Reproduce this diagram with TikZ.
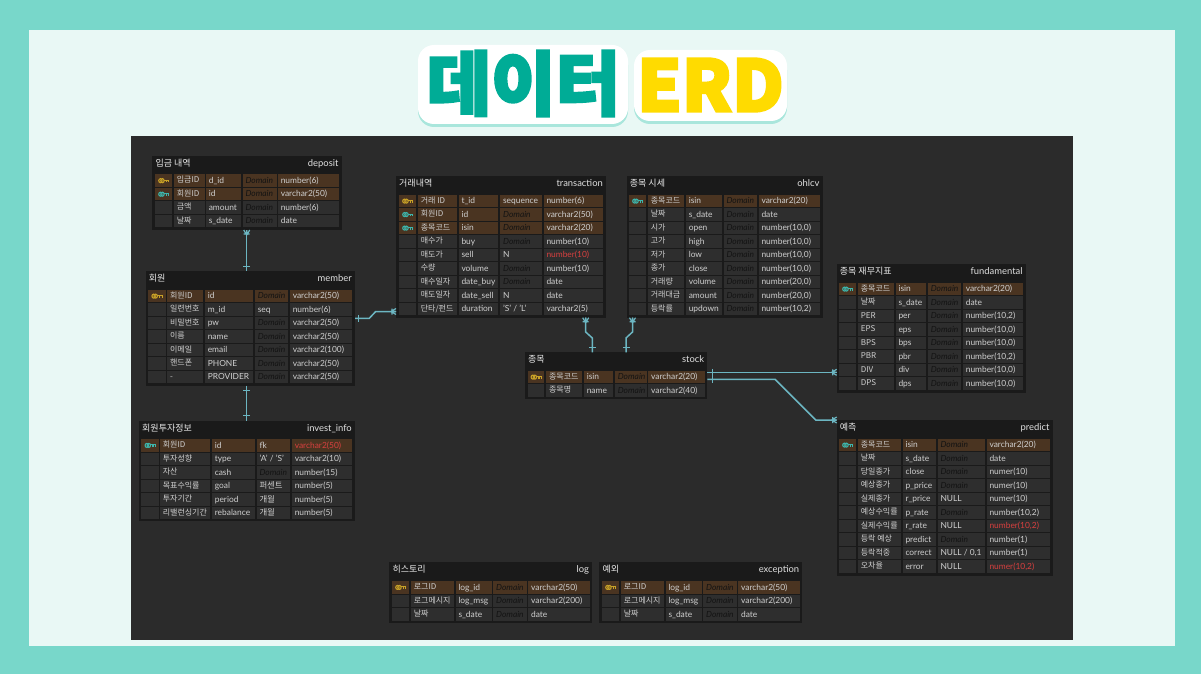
\documentclass[tikz,border=0pt]{standalone}
\usepackage{fontspec}
\setmainfont{Lato}
\newfontfamily\ko{Noto Sans CJK KR}
\newfontfamily\ttlfont[BoldFeatures={FakeBold=3.5}]{Noto Sans CJK KR}
\definecolor{mint}{HTML}{78D7CA}
\definecolor{paper}{HTML}{E9F8F5}
\definecolor{panel}{HTML}{2B2B2B}
\definecolor{tbl}{HTML}{1A1A1A}
\definecolor{cell}{HTML}{2E2E2E}
\definecolor{pkcell}{HTML}{4A3421}
\definecolor{txt}{HTML}{CFCFCF}
\definecolor{domaintxt}{HTML}{131313}
\definecolor{redtxt}{HTML}{D8403F}
\definecolor{goldkey}{HTML}{C9A227}
\definecolor{tealkey}{HTML}{3DB6AC}
\definecolor{conncol}{HTML}{6CB6C2}
\definecolor{ttlgreen}{HTML}{00AC96}
\definecolor{ttlyellow}{HTML}{FFDB00}
\definecolor{halo}{HTML}{A9E6DC}
\tikzset{
  tablebox/.style={fill=tbl,draw=none,inner sep=0pt,outer sep=0pt},
  tko/.style={font=\ko\fontsize{8}{8}\selectfont,text=txt,inner sep=0pt,anchor=base west},
  ten/.style={font=\fontsize{8.4}{8.4}\selectfont,text=txt,inner sep=0pt,anchor=base west},
  hko/.style={font=\ko\fontsize{9}{9}\selectfont,text=white!92!black,inner sep=0pt,anchor=base west},
  hen/.style={font=\fontsize{9.4}{9.4}\selectfont,text=white!88!black,inner sep=0pt,anchor=base east},
  conn/.style={draw=conncol,line width=1.5pt},
  tip/.style={draw=conncol,line width=1.2pt},
}
\newcommand\dm{{\color{domaintxt}\itshape Domain}}
\newcommand\rd[1]{{\color{redtxt}#1}}
% name x0 y0 x1 y1 korean english firstrowtop
\newcommand\erdtable[8]{%
  \node[tablebox,minimum width=#4pt-#2pt,minimum height=#5pt-#3pt] (#1) at ({(#2+#4)/2},{(#3+#5)/2}) {};
  \node[hko] (#1-ko) at ({#2+3},{#3+10.5}) {#6};
  \node[hen] (#1-en) at ({#4-3},{#3+10.5}) {#7};
  \def\tname{#1}\def\rt{#8}\def\rn{0}\def\xend{#4}%
}
\newcommand\erdcols[9]{\def\ka{#1}\def\kb{#2}\def\aa{#3}\def\ab{#4}\def\ba{#5}\def\bb{#6}\def\ca{#7}\def\cb{#8}\def\da{#9}}
\newcommand\keyicon[1]{%
  \begin{scope}[shift={({(\ka+\kb)/2},{\rt+6.4})},draw=#1,line width=1.1pt]
    \draw (-3.2,0) ellipse (1.7 and 2);
    \draw (-1.2,0) ellipse (1.7 and 2);
    \draw (.4,-.5) -- (5.2,-.5) -- (5.2,1.6) (3,-.5) -- (3,1.6);
  \end{scope}}
% type(n,p,f) four texts
\newcommand\erdrow[5]{%
  \pgfmathtruncatemacro\rn{\rn+1}%
  \pgfmathsetmacro\rb{\rt+12.6}%
  \pgfmathsetmacro\de{\xend-2.6}%
  \if#1n\def\cc{cell}\else\def\cc{pkcell}\fi
  \fill[cell] (\ka,\rt) rectangle (\kb,\rb);
  \if#1n\else\fill[\cc] (\ka,\rt) rectangle (\kb,\rb);\fi
  \fill[\cc] (\aa,\rt) rectangle (\ab,\rb);
  \fill[\cc] (\ba,\rt) rectangle (\bb,\rb);
  \fill[\cc] (\ca,\rt) rectangle (\cb,\rb);
  \fill[\cc] (\da,\rt) rectangle (\de,\rb);
  \if#1p\keyicon{goldkey}\fi
  \if#1f\keyicon{tealkey}\fi
  \node[tko,name=\tname-\rn-a] at ({\aa+2.6},{\rt+8.6}) {#2};
  \node[ten,name=\tname-\rn-b] at ({\ba+2.6},{\rt+9}) {#3};
  \node[ten,name=\tname-\rn-c] at ({\ca+2.6},{\rt+9}) {#4};
  \node[ten,name=\tname-\rn-d] at ({\da+2.6},{\rt+9}) {#5};
  \pgfmathsetmacro\rt{\rt+13.5}%
  \xdef\rtg{\rt}\let\rt\rtg
}
% crow's foot at #1 pointing along angle #2 (away from the table)
\newcommand\crow[2]{\begin{scope}[shift={(#1)},rotate=#2]
  \draw[tip] (0,-3) -- (5,0) (0,3) -- (5,0) (0,0) -- (5,0) (4,-3) -- (4,3);
\end{scope}}
\newcommand\conbar[2]{\begin{scope}[shift={(#1)},rotate=#2]
  \draw[tip] (0,-3.5) -- (0,3.5);
\end{scope}}
\begin{document}
\begin{tikzpicture}[x=1pt,y=-1pt]
\useasboundingbox (0,0) rectangle (1201,674);
\fill[mint] (0,0) rectangle (1201,674);
\fill[paper] (29,30) rectangle (1175,646);
\fill[panel] (131,136) rectangle (1073,640);
% title
\fill[halo,rounded corners=16pt] (418,49) rectangle (628,127);
\fill[halo,rounded corners=16pt] (634,54) rectangle (787,124);
\fill[white,rounded corners=16pt] (418,45) rectangle (628,124);
\fill[white,rounded corners=16pt] (634,50) rectangle (787,121);
\node[inner sep=0pt,text=ttlgreen,font=\ttlfont\bfseries\fontsize{70}{70}\selectfont] (ttlko) at (523.5,83.5) {데이터};
\node[inner sep=0pt,text=ttlyellow,font=\ttlfont\bfseries\fontsize{71}{71}\selectfont] (ttlen) at (710.5,85) {ERD};

\erdtable{deposit}{152.3}{155.7}{341.7}{230}{입금 내역}{deposit}{174.3}
\erdcols{155}{172.3}{174}{204.7}{206}{241.3}{242.7}{276.7}{278}
\erdrow{p}{입금ID}{d\_id}{\dm}{number(6)}
\erdrow{f}{회원ID}{id}{\dm}{varchar2(50)}
\erdrow{n}{금액}{amount}{\dm}{number(6)}
\erdrow{n}{날짜}{s\_date}{\dm}{date}

\erdtable{member}{145.7}{271}{355}{385.7}{회원}{member}{289.7}
\erdcols{148}{165.7}{167.3}{203.3}{205}{253.3}{255}{288.3}{290}
\erdrow{p}{회원ID}{id}{\dm}{varchar2(50)}
\erdrow{n}{일련번호}{m\_id}{seq}{number(6)}
\erdrow{n}{비밀번호}{pw}{\dm}{varchar2(50)}
\erdrow{n}{이름}{name}{\dm}{varchar2(50)}
\erdrow{n}{이메일}{email}{\dm}{varchar2(100)}
\erdrow{n}{핸드폰}{PHONE}{\dm}{varchar2(50)}
\erdrow{n}{-}{PROVIDER}{\dm}{varchar2(50)}

\erdtable{invest}{139}{420.7}{355}{521}{회원투자정보}{invest\_info}{439}
\erdcols{141.3}{158.7}{160}{210.3}{212}{255}{256.7}{290.3}{292}
\erdrow{f}{회원ID}{id}{fk}{\rd{varchar2(50)}}
\erdrow{n}{투자성향}{type}{'A' / 'S'}{varchar2(10)}
\erdrow{n}{자산}{cash}{\dm}{number(15)}
\erdrow{n}{목표수익률}{goal}{\ko 퍼센트}{number(5)}
\erdrow{n}{투자기간}{period}{\ko 개월}{number(5)}
\erdrow{n}{리밸런싱기간}{rebalance}{\ko 개월}{number(5)}

\erdtable{transaction}{396}{176}{606}{317.7}{거래내역}{transaction}{194.7}
\erdcols{399}{416.3}{418}{457}{458.7}{498.3}{500.3}{542}{543.7}
\erdrow{p}{거래 ID}{t\_id}{sequence}{number(6)}
\erdrow{f}{회원ID}{id}{\dm}{varchar2(50)}
\erdrow{f}{종목코드}{isin}{\dm}{varchar2(20)}
\erdrow{n}{매수가}{buy}{\dm}{number(10)}
\erdrow{n}{매도가}{sell}{N}{\rd{number(10)}}
\erdrow{n}{수량}{volume}{\dm}{number(10)}
\erdrow{n}{매수일자}{date\_buy}{\dm}{date}
\erdrow{n}{매도일자}{date\_sell}{N}{date}
\erdrow{n}{단타/펀드}{duration}{'S' / 'L'}{varchar2(5)}

\erdtable{ohlcv}{626.7}{176}{822.7}{317.7}{종목 시세}{ohlcv}{194.7}
\erdcols{629}{646.3}{648}{684.3}{686}{722}{723.7}{757}{758.7}
\erdrow{f}{종목코드}{isin}{\dm}{varchar2(20)}
\erdrow{n}{날짜}{s\_date}{\dm}{date}
\erdrow{n}{시가}{open}{\dm}{number(10,0)}
\erdrow{n}{고가}{high}{\dm}{number(10,0)}
\erdrow{n}{저가}{low}{\dm}{number(10,0)}
\erdrow{n}{종가}{close}{\dm}{number(10,0)}
\erdrow{n}{거래량}{volume}{\dm}{number(20,0)}
\erdrow{n}{거래대금}{amount}{\dm}{number(20,0)}
\erdrow{n}{등락률}{updown}{\dm}{number(10,2)}

\erdtable{stock}{525}{352.3}{707.3}{399.3}{종목}{stock}{370.7}
\erdcols{527.7}{544.3}{546.3}{582.3}{584}{613.3}{615}{646.7}{648.3}
\erdrow{p}{종목코드}{isin}{\dm}{varchar2(20)}
\erdrow{n}{종목명}{name}{\dm}{varchar2(40)}

\erdtable{fundamental}{836.7}{264}{1025.7}{392.7}{종목 재무지표}{fundamental}{282.7}
\erdcols{839}{856.3}{858}{894}{895.7}{926.3}{928}{961.3}{963}
\erdrow{f}{종목코드}{isin}{\dm}{varchar2(20)}
\erdrow{n}{날짜}{s\_date}{\dm}{date}
\erdrow{n}{PER}{per}{\dm}{number(10,2)}
\erdrow{n}{EPS}{eps}{\dm}{number(10,0)}
\erdrow{n}{BPS}{bps}{\dm}{number(10,0)}
\erdrow{n}{PBR}{pbr}{\dm}{number(10,2)}
\erdrow{n}{DIV}{div}{\dm}{number(10,0)}
\erdrow{n}{DPS}{dps}{\dm}{number(10,0)}

\erdtable{predict}{836.7}{420}{1052.7}{575.7}{예측}{predict}{438.7}
\erdcols{839}{856.3}{858}{901}{902.7}{936}{937.7}{985}{986.7}
\erdrow{f}{종목코드}{isin}{\dm}{varchar2(20)}
\erdrow{n}{날짜}{s\_date}{\dm}{date}
\erdrow{n}{당일종가}{close}{\dm}{numer(10)}
\erdrow{n}{예상종가}{p\_price}{\dm}{numer(10)}
\erdrow{n}{실제종가}{r\_price}{NULL}{numer(10)}
\erdrow{n}{예상수익률}{p\_rate}{\dm}{number(10,2)}
\erdrow{n}{실제수익률}{r\_rate}{NULL}{\rd{number(10,2)}}
\erdrow{n}{등락 예상}{predict}{\dm}{number(1)}
\erdrow{n}{등락적중}{correct}{NULL / 0,1}{number(1)}
\erdrow{n}{오차율}{error}{NULL}{\rd{numer(10,2)}}

\erdtable{log}{389.3}{562.3}{592.3}{623}{히스토리}{log}{581}
\erdcols{392}{409.3}{411}{454}{455.7}{491.7}{493.3}{526.7}{528.3}
\erdrow{p}{로그ID}{log\_id}{\dm}{varchar2(50)}
\erdrow{n}{로그메시지}{log\_msg}{\dm}{varchar2(200)}
\erdrow{n}{날짜}{s\_date}{\dm}{date}

\erdtable{exception}{599.3}{562.3}{802.3}{623}{예외}{exception}{581}
\erdcols{602}{619.3}{621}{664}{665.7}{701.7}{703.3}{736.7}{738.3}
\erdrow{p}{로그ID}{log\_id}{\dm}{varchar2(50)}
\erdrow{n}{로그메시지}{log\_msg}{\dm}{varchar2(200)}
\erdrow{n}{날짜}{s\_date}{\dm}{date}

% connectors
\coordinate (vA) at (246.7,300);
\draw[conn] (deposit.south -| vA) -- (member.north -| vA);
\crow{deposit.south -| vA}{-90}
\coordinate (vAb) at (246.7,266.7);
\conbar{vAb}{-90}

\draw[conn] (member.south -| vA) -- (invest.north -| vA);
\coordinate (vBa) at (246.7,390.7);
\coordinate (vBb) at (246.7,415.7);
\conbar{vBa}{-90}
\conbar{vBb}{-90}

\coordinate (m1) at (369.3,318.3);
\coordinate (m2) at (375.7,311.5);
\coordinate (mb) at (358.7,318.3);
\draw[conn] (member.east |- m1) -- (m1) -- (m2) -- (transaction.west |- m2);
\conbar{mb}{0}
\crow{transaction.west |- m2}{180}

\coordinate (t1) at (585.7,332);
\coordinate (t2) at (592.3,338);
\coordinate (tb) at (592.3,347.8);
\draw[conn] (transaction.south -| t1) -- (t1) -- (t2) -- (stock.north -| t2);
\crow{transaction.south -| t1}{-90}
\conbar{tb}{-90}

\coordinate (o1) at (632.5,332);
\coordinate (o2) at (626,338);
\coordinate (ob) at (626,347.8);
\draw[conn] (ohlcv.south -| o1) -- (o1) -- (o2) -- (stock.north -| o2);
\crow{ohlcv.south -| o1}{-90}
\conbar{ob}{-90}

\coordinate (f1) at (712.3,372.3);
\coordinate (p1) at (712.3,379.3);
\coordinate (p2) at (775,379.3);
\coordinate (p3) at (815.7,420);
\draw[conn] (stock.east |- f1) -- (fundamental.west |- f1);
\crow{fundamental.west |- f1}{180}
\conbar{f1}{0}
\draw[conn] (stock.east |- p1) -- (p2) -- (p3) -- (predict.north west);
\crow{predict.north west}{180}
\conbar{p1}{0}
\end{tikzpicture}
\end{document}
